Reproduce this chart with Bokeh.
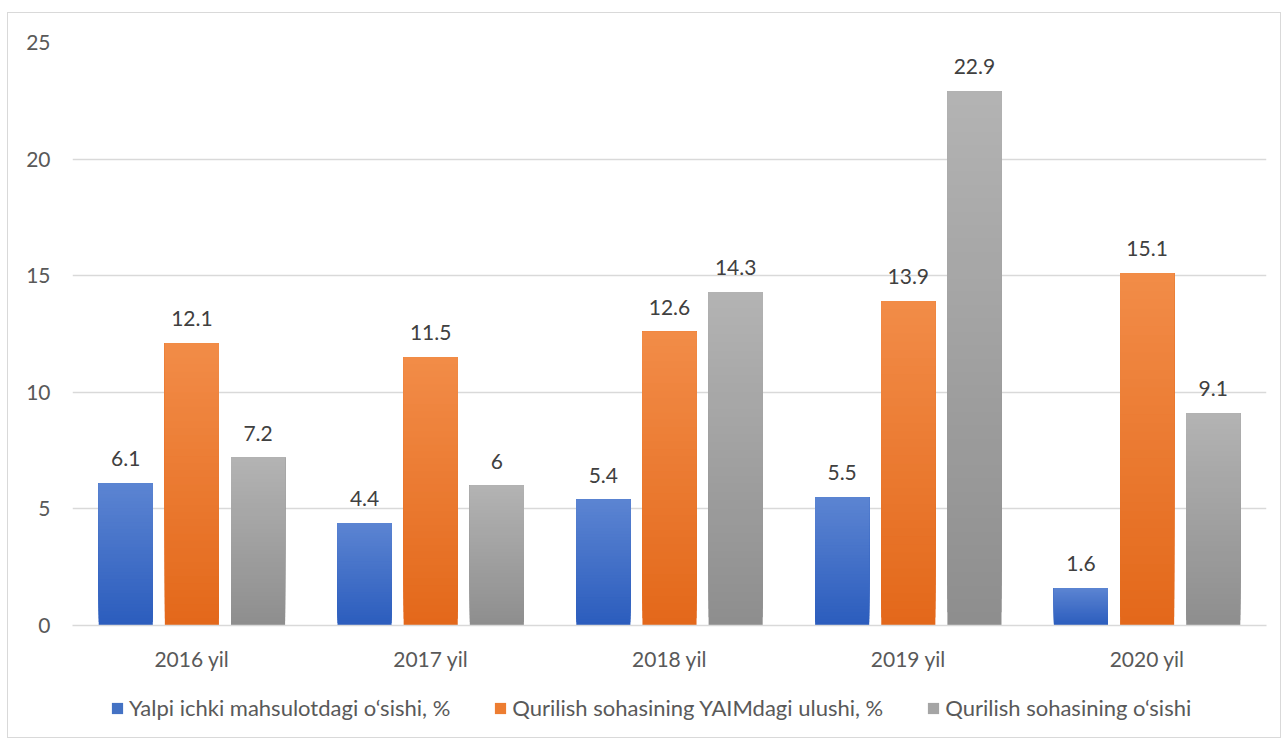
from bokeh.plotting import figure
from bokeh.layouts import column
from bokeh.models import ColumnDataSource, FactorRange, Range1d, Legend, LegendItem, SingleIntervalTicker, LabelSet
from bokeh.transform import dodge
from bokeh.core.properties import value
from bokeh.embed import file_html
from bokeh.resources import INLINE

years = ["2016 yil", "2017 yil", "2018 yil", "2019 yil", "2020 yil"]
gdp_growth = [6.1, 4.4, 5.4, 5.5, 1.6]
constr_share = [12.1, 11.5, 12.6, 13.9, 15.1]
constr_growth = [7.2, 6, 14.3, 22.9, 9.1]
series_names = ["Yalpi ichki mahsulotdagi o\u2018sishi, %",
                "Qurilish sohasining YAIMdagi ulushi, %",
                "Qurilish sohasining o\u2018sishi"]
series_values = [gdp_growth, constr_share, constr_growth]
top_colors = ["#5c84d2", "#f28c48", "#b3b3b3"]
bottom_colors = ["#2b5dbd", "#e3681a", "#8e8e8e"]
mid_colors = ["#4472c4", "#ed7d31", "#a5a5a5"]
offsets = [-0.277, 0.0, 0.277]
BAR_W = 0.2265
FONT = "Lato"
FS = "21px"
N = 40
W = 1272


def hex2rgb(h):
    h = h.lstrip("#")
    return tuple(int(h[i:i + 2], 16) for i in (0, 2, 4))


def lerp(c1, c2, t):
    a, b = hex2rgb(c1), hex2rgb(c2)
    return "#%02x%02x%02x" % tuple(int(round(a[i] + (b[i] - a[i]) * t)) for i in range(3))


p = figure(width=W, height=664, x_range=FactorRange(*years), y_range=Range1d(0, 25),
           output_backend="svg", toolbar_location=None,
           min_border_left=64, min_border_right=14, min_border_top=29, min_border_bottom=52)
p.outline_line_color = None
p.background_fill_color = "white"

for s, vals in enumerate(series_values):
    xs, bots, tops, cols = [], [], [], []
    for k in range(N):
        for yr, v in zip(years, vals):
            xs.append(yr)
            bots.append(v * k / N)
            tops.append(v)
            cols.append(lerp(bottom_colors[s], top_colors[s], (k + 0.5) / N))
    src = ColumnDataSource(dict(x=xs, bottom=bots, top=tops, color=cols))
    p.vbar(x=dodge("x", offsets[s], range=p.x_range), bottom="bottom", top="top", width=BAR_W,
           fill_color="color", line_color=None, source=src)

    lab_src = ColumnDataSource(dict(x=years, y=vals, t=[f"{v:g}" for v in vals]))
    labels = LabelSet(x=dodge("x", offsets[s], range=p.x_range), y="y", text="t", source=lab_src,
                      text_align="center", text_baseline="bottom", y_offset=17,
                      text_font=value(FONT), text_font_size=FS, text_color="#404040")
    p.add_layout(labels)

p.xgrid.grid_line_color = None
p.ygrid.grid_line_color = "#d9d9d9"
p.ygrid.grid_line_width = 1.3
p.yaxis.ticker = SingleIntervalTicker(interval=5)
p.yaxis.axis_line_color = None
p.yaxis.major_tick_line_color = None
p.yaxis.minor_tick_line_color = None
p.yaxis.major_label_standoff = 16
p.xaxis.axis_line_color = "#d9d9d9"
p.xaxis.axis_line_width = 1.3
p.xaxis.major_tick_line_color = None
p.xaxis.major_label_standoff = 14
for ax in (p.xaxis, p.yaxis):
    ax.major_label_text_font = FONT
    ax.major_label_text_font_size = FS
    ax.major_label_text_color = "#595959"

# legend strip below the chart
p2 = figure(width=W, height=60, x_range=Range1d(0, 1), y_range=Range1d(0, 1),
            output_backend="svg", toolbar_location=None, min_border=0)
p2.axis.visible = False
p2.grid.grid_line_color = None
p2.outline_line_color = None
legend_items = []
for s in range(3):
    dummy = ColumnDataSource(dict(x=[0], top=[0]))
    r = p2.vbar(x="x", top="top", width=0, fill_color=mid_colors[s], line_color=None, source=dummy)
    legend_items.append(LegendItem(label=series_names[s], renderers=[r]))
legend = Legend(items=legend_items, orientation="horizontal", location=(38, 16),
                label_text_font=FONT, label_text_font_size="22px", label_text_color="#595959",
                glyph_width=14, glyph_height=14, label_standoff=5, spacing=43,
                padding=0, margin=0, border_line_color=None, background_fill_alpha=0)
p2.add_layout(legend, "center")

layout = column(p, p2, spacing=0,
                styles={"border": "1px solid #d9d9d9", "margin-left": "7px", "margin-top": "12px"})

open("out.html", "w").write(file_html(layout, INLINE))
